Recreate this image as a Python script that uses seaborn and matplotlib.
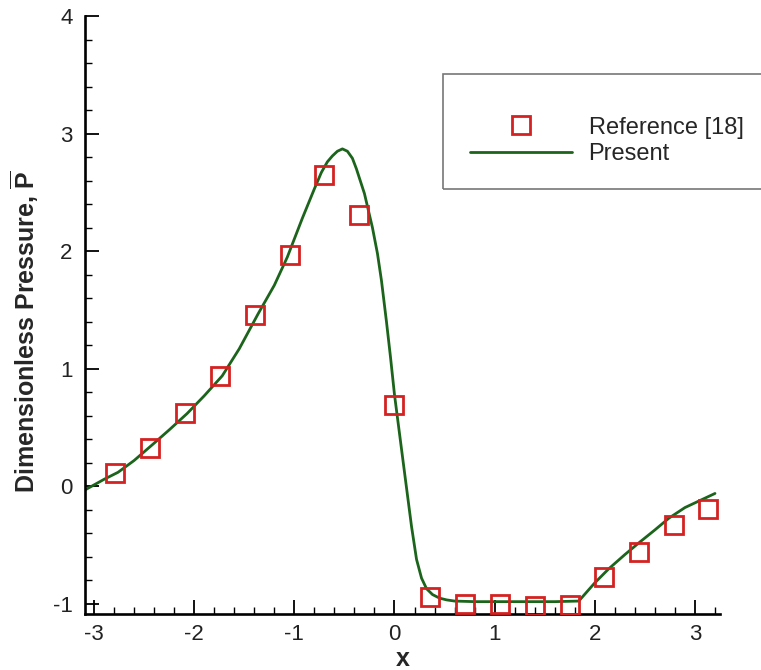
import matplotlib
matplotlib.use("Agg")
import matplotlib.pyplot as plt
import seaborn as sns
import pandas as pd
from matplotlib.patches import Rectangle
from matplotlib.ticker import MultipleLocator

# ---- data ----
ref_x = [-2.79, -2.44, -2.09, -1.74, -1.39, -1.04, -0.70, -0.35, 0.00,
         0.35, 0.70, 1.05, 1.40, 1.75, 2.09, 2.44, 2.79, 3.13]
ref_y = [0.11, 0.33, 0.62, 0.94, 1.46, 1.97, 2.65, 2.31, 0.69,
         -0.94, -1.00, -1.00, -1.02, -1.01, -0.77, -0.56, -0.33, -0.19]

cur_x = [-3.09, -2.90, -2.76, -2.60, -2.41, -2.25, -2.07, -1.90, -1.72, -1.55,
         -1.36, -1.20, -1.07, -0.92, -0.80, -0.73, -0.67, -0.62, -0.57, -0.52,
         -0.47, -0.42, -0.38, -0.30, -0.22, -0.17, -0.13, -0.08, -0.04, 0.00,
         0.05, 0.10, 0.17, 0.22, 0.27, 0.32, 0.38, 0.45, 0.52, 0.60,
         0.80, 1.20, 1.60, 1.84, 2.00, 2.14, 2.30, 2.44, 2.60, 2.74,
         2.90, 3.05, 3.20]
cur_y = [-0.03, 0.06, 0.12, 0.22, 0.36, 0.48, 0.62, 0.77, 0.94, 1.17,
         1.47, 1.71, 1.95, 2.28, 2.53, 2.67, 2.76, 2.81, 2.85, 2.87,
         2.85, 2.79, 2.70, 2.49, 2.20, 1.98, 1.75, 1.40, 1.10, 0.78,
         0.45, 0.12, -0.34, -0.62, -0.78, -0.87, -0.92, -0.95, -0.965, -0.975,
         -0.98, -0.98, -0.98, -0.975, -0.82, -0.70, -0.58, -0.48, -0.37, -0.27,
         -0.18, -0.12, -0.06]

x_ticks = [-3, -2, -1, 0, 1, 2, 3]
y_ticks = [-1, 0, 1, 2, 3, 4]

sns.set_style("ticks")
plt.rcParams["font.family"] = ["Liberation Sans", "DejaVu Sans"]
plt.rcParams["axes.unicode_minus"] = False
plt.rcParams["mathtext.fontset"] = "custom"
plt.rcParams["mathtext.bf"] = "Liberation Sans:bold"
plt.rcParams["mathtext.rm"] = "Liberation Sans"

W, H = 761, 670
fig = plt.figure(figsize=(W / 100, H / 100), dpi=100)
ax = fig.add_axes([85 / W, 1 - 614 / H, (720 - 85) / W, (614 - 16) / H])

red = "#d42222"
green = "#1c641c"

df_ref = pd.DataFrame({"x": ref_x, "y": ref_y})
df_cur = pd.DataFrame({"x": cur_x, "y": cur_y})

sns.lineplot(data=df_cur, x="x", y="y", ax=ax, color=green, lw=2.0,
             sort=False, label="Present", zorder=2)
sns.lineplot(data=df_ref, x="x", y="y", ax=ax, linestyle="", marker="s",
             markersize=13.5, markerfacecolor="none", markeredgecolor=red,
             markeredgewidth=2.0, label="Reference [18]", zorder=3)

ax.set_xlim(-3.09, 3.25)
ax.set_ylim(-1.085, 4.0)
ax.set_xticks(x_ticks)
ax.set_yticks(y_ticks)
ax.set_xticklabels([str(t) for t in x_ticks])
ax.set_yticklabels([str(t) for t in y_ticks])
ax.xaxis.set_minor_locator(MultipleLocator(0.2))
ax.yaxis.set_minor_locator(MultipleLocator(0.2))
ax.tick_params(which="major", direction="in", length=10, width=1.3,
               labelsize=16, color="black", labelcolor="#222222", pad=7)
ax.tick_params(which="minor", direction="in", length=5, width=1.0, color="black")
ax.tick_params(axis="y", which="major", pad=9)

sns.despine(ax=ax)
for s in ["left", "bottom"]:
    ax.spines[s].set_linewidth(1.9)
    ax.spines[s].set_color("black")

ax.set_xlabel("x", fontsize=18, fontweight="bold", labelpad=2)
ax.set_ylabel(r"Dimensionless Pressure, $\overline{\mathbf{P}}$",
              fontsize=18, fontweight="bold")
ax.yaxis.set_label_coords(-0.070, 0.473)

# legend
handles, labels = ax.get_legend_handles_labels()
order = [labels.index("Reference [18]"), labels.index("Present")]
leg = ax.legend([handles[i] for i in order], [labels[i] for i in order],
                loc="center left", bbox_to_anchor=(470 / W, 1 - 141 / H),
                bbox_transform=fig.transFigure, frameon=False,
                fontsize=17, handlelength=4.3, handletextpad=0.72,
                labelspacing=0.2, borderpad=0, borderaxespad=0)
leg.set_zorder(5)

box = Rectangle((443 / W, 1 - 189 / H), 1.05 - 443 / W, (189 - 74) / H,
                transform=fig.transFigure, fill=False, edgecolor="#777777",
                lw=1.2, clip_on=False, zorder=4)
fig.add_artist(box)

fig.savefig("out.png", dpi=100)
